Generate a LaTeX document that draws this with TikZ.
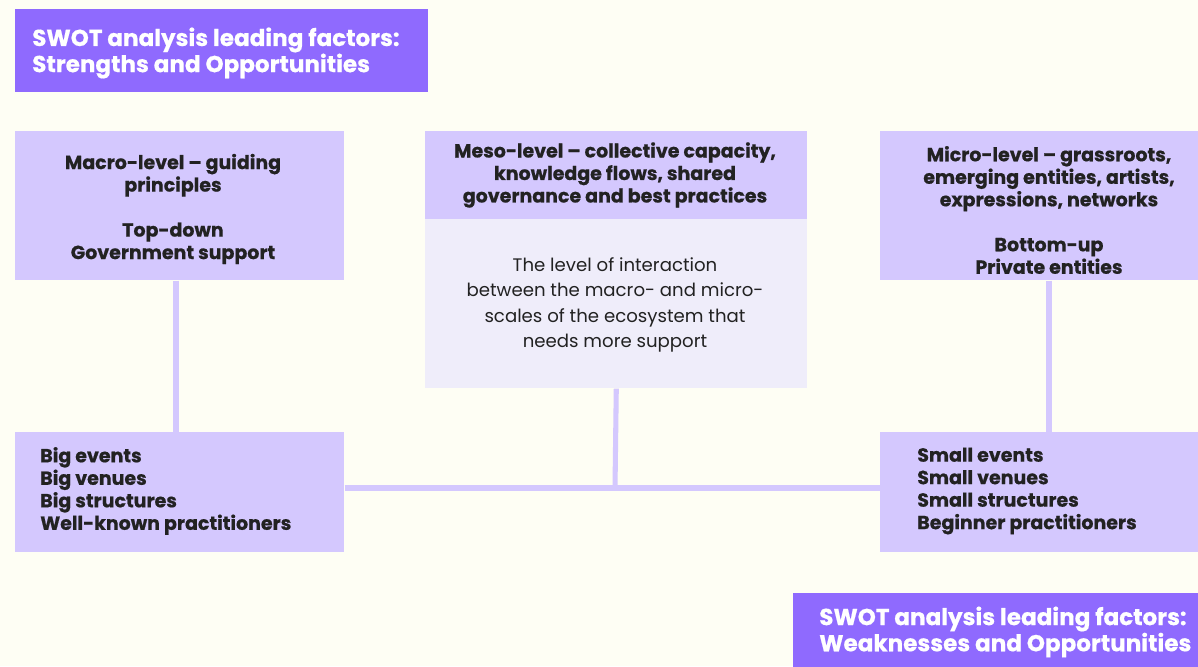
\documentclass[tikz,border=0pt]{standalone}
\usepackage{fontspec}
\setmainfont{Poppins}[BoldFeatures={FakeBold=0.6}]
\usepackage{tikz}
\usetikzlibrary{positioning}

\definecolor{bgcream}{HTML}{FEFEF4}
\definecolor{swotpurple}{HTML}{8F6AFE}
\definecolor{lavender}{HTML}{D4C8FE}
\definecolor{palelav}{HTML}{EFEDFA}
\definecolor{inkdark}{HTML}{222222}

\tikzset{
    swotbox/.style={fill=swotpurple, anchor=north west, inner sep=0pt},
    levelbox/.style={fill=lavender, anchor=north west, inner sep=0pt},
    mesobody/.style={fill=palelav, anchor=north west, inner sep=0pt},
    swottext/.style={text=white, font=\bfseries\fontsize{16.4}{18.6}\selectfont, align=left, anchor=west, inner sep=0pt},
    leveltext/.style={text=inkdark, font=\bfseries\fontsize{13.5}{16}\selectfont, align=center, inner sep=0pt},
    listtext/.style={leveltext, align=left, anchor=west},
    bodytext/.style={text=inkdark, font=\fontsize{12.9}{18}\selectfont, align=center, inner sep=0pt},
    link/.style={lavender, line width=3.6pt}
}

\begin{document}
\begin{tikzpicture}[x=0.025cm, y=-0.025cm]
            % page
            \fill[bgcream] (0,0) rectangle (1198,666);
            \useasboundingbox (0,0) rectangle (1198,666);
            \clip (0,0) rectangle (1198,666);

            % SWOT headers
            \node[swotbox, minimum width=413*0.025cm, minimum height=83*0.025cm] (swottop) at (15,9) {};
            \node[swottext] (swottoptext) at (32,53) {SWOT analysis leading factors:\\Strengths and Opportunities};
            \node[swotbox, minimum width=430*0.025cm, minimum height=90*0.025cm] (swotbottom) at (793,593) {};
            \node[swottext] (swotbottomtext) at (819,632) {SWOT analysis leading factors:\\Weaknesses and Opportunities};

            % level boxes
            \node[levelbox, minimum width=329*0.025cm, minimum height=149*0.025cm] (macro) at (15,131) {};
            \node[leveltext] (macrotext) at (173,209) {Macro-level -- guiding\\principles\\[16pt]Top-down\\Government support};

            \node[levelbox, minimum width=382*0.025cm, minimum height=88*0.025cm] (meso) at (425,131) {};
            \node[leveltext] (mesotext) at (615,175) {Meso-level -- collective capacity,\\knowledge flows, shared\\governance and best practices};
            \node[mesobody, minimum width=382*0.025cm, minimum height=169*0.025cm] (mesolow) at (425,219) {};
            \node[bodytext] (mesolowtext) at (615,305) {The level of interaction\\between the macro- and micro-\\scales of the ecosystem that\\needs more support};

            \node[levelbox, minimum width=340*0.025cm, minimum height=149*0.025cm] (micro) at (880,131) {};
            \node[leveltext] (microtext) at (1049,210) {Micro-level -- grassroots,\\emerging entities, artists,\\expressions, networks\\[16pt]Bottom-up\\Private entities};

            % scale boxes
            \node[levelbox, minimum width=329*0.025cm, minimum height=120*0.025cm] (big) at (15,432) {};
            \node[listtext] (bigtext) at (40,491) {Big events\\Big venues\\Big structures\\Well-known practitioners};
            \node[levelbox, minimum width=340*0.025cm, minimum height=120*0.025cm] (small) at (880,432) {};
            \node[listtext] (smalltext) at (917,491) {Small events\\Small venues\\Small structures\\Beginner practitioners};

            % links
            \draw[link] (macro.south -| 176,0) -- (big.north -| 176,0);
            \draw[link] (micro.south -| 1049,0) -- (small.north -| 1049,0);
            \coordinate (hub) at (615,488);
            \draw[link] (big.east |- hub) -- (small.west |- hub);
            \draw[link] (mesolow.south) -- (hub);
        \end{tikzpicture}
\end{document}
